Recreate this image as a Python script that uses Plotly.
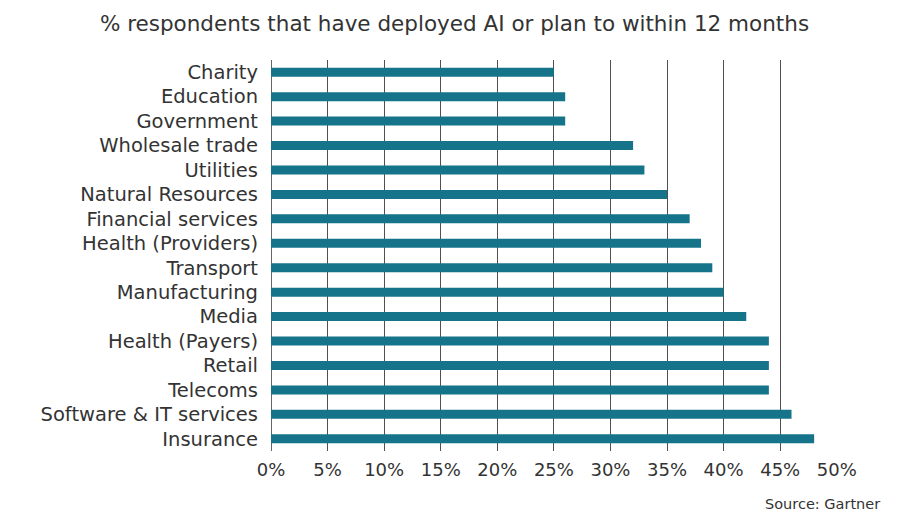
import plotly.graph_objects as go

categories = ["Charity", "Education", "Government", "Wholesale trade", "Utilities",
              "Natural Resources", "Financial services", "Health (Providers)", "Transport",
              "Manufacturing", "Media", "Health (Payers)", "Retail", "Telecoms",
              "Software & IT services", "Insurance"]
values = [25, 26, 26, 32, 33, 35, 37, 38, 39, 40, 42, 44, 44, 44, 46, 48]
tick_vals = [0, 5, 10, 15, 20, 25, 30, 35, 40, 45, 50]
tick_text = [f"{v}%" for v in tick_vals]

FONT = "DejaVu Sans"
TXT = "#333333"
fig = go.Figure(go.Bar(
    x=values, y=categories, orientation="h",
    marker=dict(color="#157489", line=dict(width=0)),
    width=0.37,
))
L, R, T, B = 271, 72, 60, 62
fig.update_layout(
    width=909, height=513,
    margin=dict(l=L, r=R, t=T, b=B),
    paper_bgcolor="white", plot_bgcolor="white",
    font=dict(family=FONT, color=TXT),
    showlegend=False,
    title=dict(text="% respondents that have deployed AI or plan to within 12 months",
               x=0.5, xanchor="center", y=1 - 23 / 513, yanchor="middle",
               font=dict(size=21.5, color=TXT, family=FONT)),
    xaxis=dict(range=[0, 50.02], tickmode="array", tickvals=tick_vals, ticktext=tick_text,
               showgrid=True, gridcolor="#505050", gridwidth=1,
               zeroline=True, zerolinecolor="#666666", zerolinewidth=1,
               showline=False, ticks="", tickfont=dict(size=18, color=TXT),
               ticklabelstandoff=6, fixedrange=True),
    yaxis=dict(showgrid=False, zeroline=False, ticks="",
               tickfont=dict(size=19.5, color=TXT), ticklabelstandoff=12,
               range=[15.5, -0.5], autorange=False),
    annotations=[dict(text="Source: Gartner", xref="paper", yref="paper",
                      x=(882 - L) / (909 - L - R), y=-(504 - (513 - B)) / (513 - T - B),
                      xanchor="right", yanchor="middle", showarrow=False,
                      font=dict(size=14.5, color=TXT, family=FONT))],
)
fig.write_html("out.html")
